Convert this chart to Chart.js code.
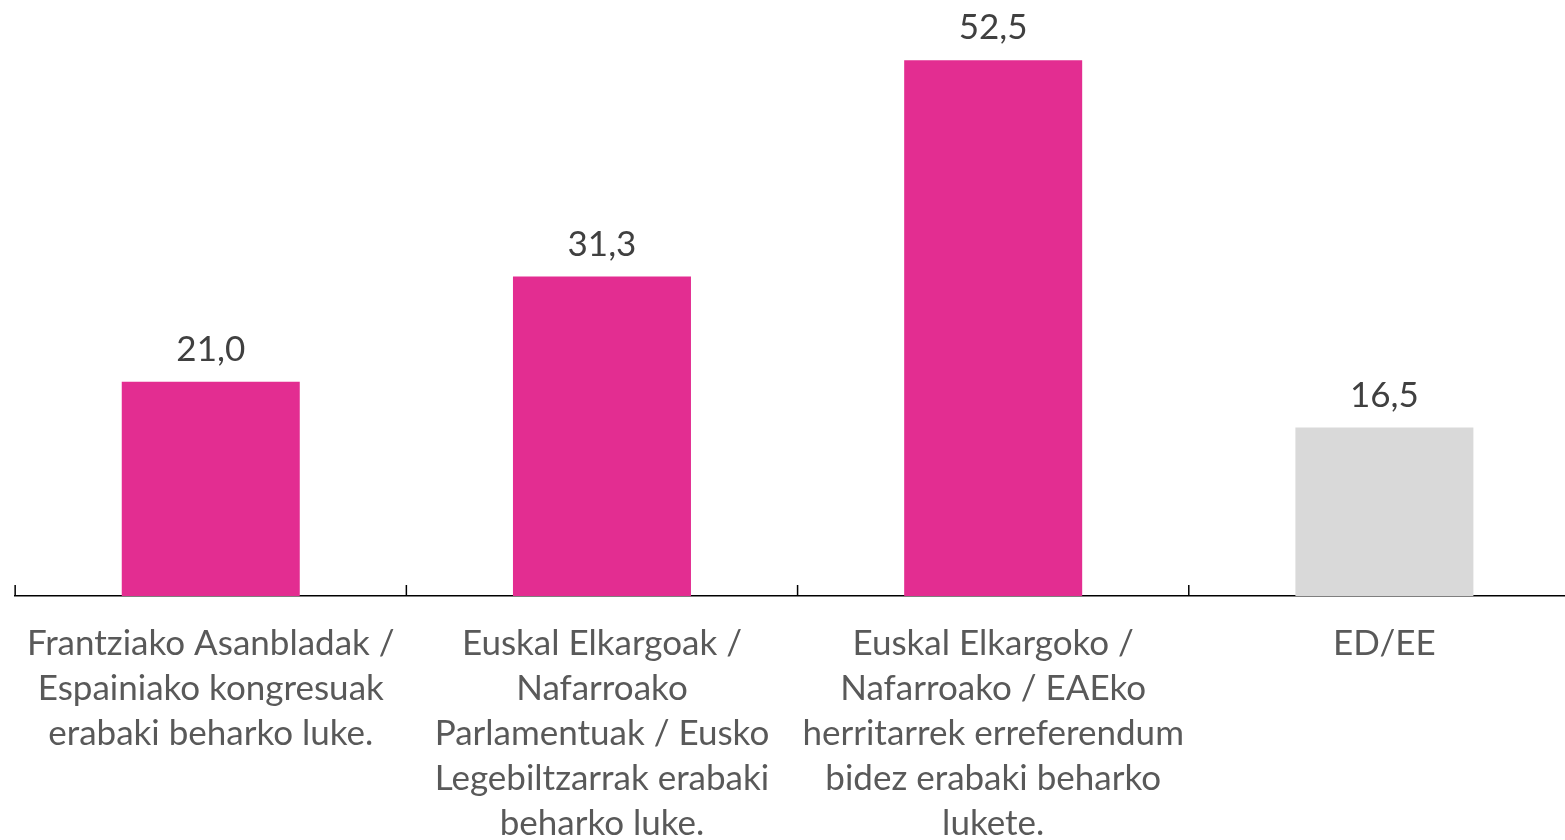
<!DOCTYPE html>
<html>
<head>
<meta charset="utf-8">
<script src="https://cdn.jsdelivr.net/npm/chart.js@4.4.0/dist/chart.umd.min.js"></script>
<style>
  html, body { margin: 0; padding: 0; background: #fff; overflow: hidden; }
  #wrap { width: 1580px; height: 871px; position: relative; }
</style>
</head>
<body>
<div id="wrap"><canvas id="myChart"></canvas></div>
<script>
const categories = [
    ['Frantziako Asanbladak /', 'Espainiako kongresuak', 'erabaki beharko luke.'],
    ['Euskal Elkargoak /', 'Nafarroako', 'Parlamentuak / Eusko', 'Legebiltzarrak erabaki', 'beharko luke.'],
    ['Euskal Elkargoko /', 'Nafarroako / EAEko', 'herritarrek erreferendum', 'bidez erabaki beharko', 'lukete.'],
    ['ED/EE']
];
const values = [21.0, 31.3, 52.5, 16.5];
const barColors = ['#E32D91', '#E32D91', '#E32D91', '#D9D9D9'];

// value labels above the bars
const valueLabels = {
    id: 'valueLabels',
    afterDatasetsDraw(chart) {
        const ctx = chart.ctx;
        const meta = chart.getDatasetMeta(0);
        ctx.save();
        ctx.font = '35px Lato';
        ctx.fillStyle = '#404040';
        ctx.textAlign = 'center';
        ctx.textBaseline = 'alphabetic';
        meta.data.forEach((bar, i) => {
            ctx.fillText(values[i].toFixed(1).replace('.', ','), bar.x, bar.y - 21);
        });
        ctx.restore();
    }
};

// small upward tick marks between categories
const categoryTicks = {
    id: 'categoryTicks',
    afterDraw(chart) {
        const ctx = chart.ctx;
        const x = chart.scales.x;
        const bottom = chart.chartArea.bottom;
        ctx.save();
        ctx.strokeStyle = '#000';
        ctx.lineWidth = 1.5;
        for (let i = 0; i <= categories.length; i++) {
            let px;
            if (i === 0) px = chart.chartArea.left;
            else if (i === categories.length) px = chart.chartArea.right;
            else px = (x.getPixelForValue(i - 1) + x.getPixelForValue(i)) / 2;
            ctx.beginPath();
            ctx.moveTo(px, bottom);
            ctx.lineTo(px, bottom - 11);
            ctx.stroke();
        }
        ctx.restore();
    }
};

const config = {
    type: 'bar',
    data: {
        labels: categories,
        datasets: [{
            data: values,
            backgroundColor: barColors,
            barPercentage: 0.455,
            categoryPercentage: 1
        }]
    },
    options: {
        responsive: true,
        maintainAspectRatio: false,
        animation: false,
        layout: { padding: { left: 15, right: 0, top: 0, bottom: 0 } },
        plugins: {
            legend: { display: false },
            tooltip: { enabled: false }
        },
        scales: {
            y: {
                display: false,
                min: 0,
                max: 58.4
            },
            x: {
                grid: { display: false, drawTicks: false },
                border: { display: true, color: '#000', width: 1.5 },
                ticks: {
                    color: '#595959',
                    font: { family: 'Lato', size: 35, lineHeight: 45 / 35 },
                    padding: 25,
                    maxRotation: 0,
                    autoSkip: false
                }
            }
        }
    },
    plugins: [valueLabels, categoryTicks]
};

new Chart(document.getElementById('myChart'), config);
</script>
</body>
</html>
